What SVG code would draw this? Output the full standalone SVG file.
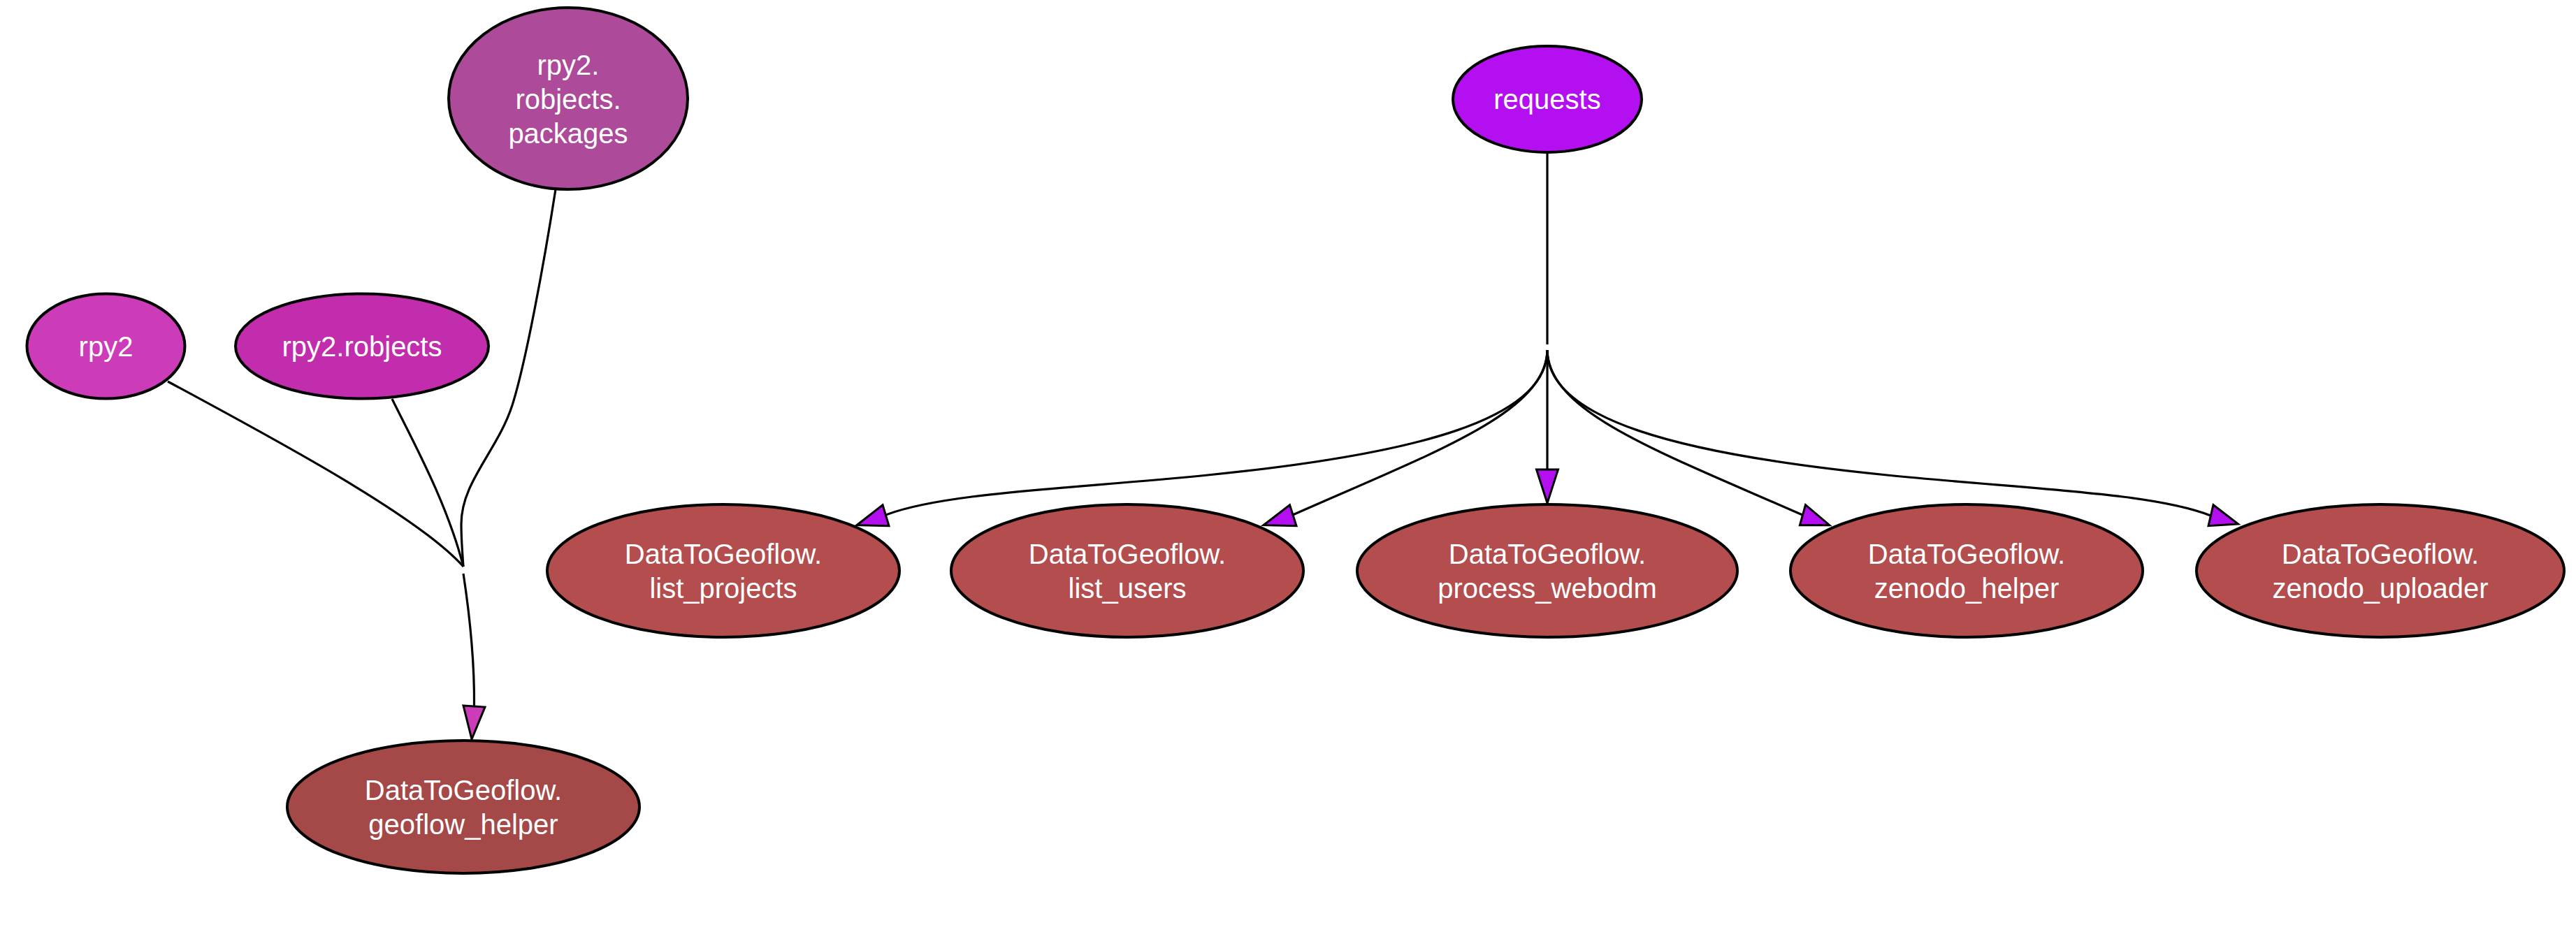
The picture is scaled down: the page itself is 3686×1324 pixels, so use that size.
<svg xmlns="http://www.w3.org/2000/svg" width="3686" height="1324" viewBox="0 0 3686 1324">
<style>
.node ellipse{stroke:#000;stroke-width:4}
.node text{font-family:"Liberation Sans",Arial,sans-serif;font-size:40px;fill:#fff;text-anchor:middle}
.edges path{fill:none;stroke:#000;stroke-width:3.2}
.edges polygon{stroke:#000;stroke-width:3;stroke-linejoin:miter}
.ar1{fill:#CC3BB8}
.ar2{fill:#B30FF0}
</style>
<rect width="3686" height="1324" fill="#fff"/>
<g id="edges" class="edges">
<path d="M240,546 C400,632 600,740 663,811"/>
<path d="M561,571 C590,630 640,720 663,811"/>
<path d="M795,271 C778,380 752,520 733,580 C712,645 660,690 660,750 C660,775 662,795 663,811"/>
<path d="M663,821 C672,880 679,950 678.5,1011"/>
<polygon class="ar1" points="663,1010 694,1012 675,1058"/>
<path d="M2214,218 L2214,493"/>
<path d="M2214,501 L2214,672"/>
<polygon class="ar2" points="2198.5,672 2229.5,672 2214,720"/>
<path d="M2214,501 C2216,590 2370,645 2579,737"/>
<polygon class="ar2" points="2583.5,722.7 2575.4,751.7 2617.8,751.7"/>
<path d="M2214,501 C2214,600 2400,650 2700,680 C2900,700 3080,705 3163,738"/>
<polygon class="ar2" points="3167,722.7 3160,752.7 3202.5,750"/>
<path d="M2214,501 C2212,590 2058,645 1850,737"/>
<polygon class="ar2" points="1845.5,722.7 1855,752.7 1808,751.7"/>
<path d="M2214,501 C2214,600 2028,650 1728,680 C1528,700 1348,705 1265,738"/>
<polygon class="ar2" points="1263,722.7 1272,752.7 1226,751.7"/>
</g>
<g id="rpy2.robjects.packages" class="node">
<ellipse cx="813" cy="141" rx="171" ry="130" fill="#AD4A9A"/>
<text x="813" y="107">rpy2.</text>
<text x="813" y="156">robjects.</text>
<text x="813" y="205">packages</text>
</g>
<g id="rpy2" class="node">
<ellipse cx="151.5" cy="495.5" rx="113" ry="75" fill="#CC3BB8"/>
<text x="151.5" y="510">rpy2</text>
</g>
<g id="rpy2.robjects" class="node">
<ellipse cx="518" cy="495.5" rx="181" ry="75" fill="#C12DAD"/>
<text x="518" y="510">rpy2.robjects</text>
</g>
<g id="requests" class="node">
<ellipse cx="2214" cy="142" rx="135" ry="76" fill="#B30FF0"/>
<text x="2214" y="156">requests</text>
</g>
<g id="DataToGeoflow.list_projects" class="node">
<ellipse cx="1035" cy="817" rx="252" ry="95" fill="#B34D4E"/>
<text x="1035" y="806.5">DataToGeoflow.</text>
<text x="1035" y="855.5">list_projects</text>
</g>
<g id="DataToGeoflow.list_users" class="node">
<ellipse cx="1613" cy="817" rx="252" ry="95" fill="#B34D4E"/>
<text x="1613" y="806.5">DataToGeoflow.</text>
<text x="1613" y="855.5">list_users</text>
</g>
<g id="DataToGeoflow.process_webodm" class="node">
<ellipse cx="2214" cy="817" rx="272" ry="95" fill="#B34D4E"/>
<text x="2214" y="806.5">DataToGeoflow.</text>
<text x="2214" y="855.5">process_webodm</text>
</g>
<g id="DataToGeoflow.zenodo_helper" class="node">
<ellipse cx="2814" cy="817" rx="252" ry="95" fill="#B34D4E"/>
<text x="2814" y="806.5">DataToGeoflow.</text>
<text x="2814" y="855.5">zenodo_helper</text>
</g>
<g id="DataToGeoflow.zenodo_uploader" class="node">
<ellipse cx="3406" cy="817" rx="263" ry="95" fill="#B34D4E"/>
<text x="3406" y="806.5">DataToGeoflow.</text>
<text x="3406" y="855.5">zenodo_uploader</text>
</g>
<g id="DataToGeoflow.geoflow_helper" class="node">
<ellipse cx="663" cy="1155" rx="252" ry="95" fill="#A54848"/>
<text x="663" y="1144.5">DataToGeoflow.</text>
<text x="663" y="1193.5">geoflow_helper</text>
</g>
</svg>
